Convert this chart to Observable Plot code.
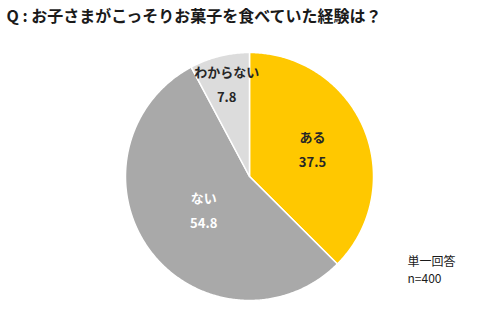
<!DOCTYPE html>
<html>
<head>
<meta charset="utf-8">
<script src="https://cdn.jsdelivr.net/npm/d3@7"></script>
<script src="https://cdn.jsdelivr.net/npm/@observablehq/plot@0.6"></script>
<style>
  html, body { margin: 0; padding: 0; background: #fff; }
  #chart svg { display: block; }
</style>
</head>
<body>
<div id="chart"></div>
<script>
// ---- data ----
const title = "Q : お子さまがこっそりお菓子を食べていた経験は？";
const categories = ["ある", "ない", "わからない"];
const values = [37.5, 54.8, 7.8];
const noteLines = ["単一回答", "n=400"];

// ---- styling (not data) ----
const colors = { "ある": "#FFC800", "ない": "#A9A9A9", "わからない": "#DCDCDC" };
const labelColors = { "ある": "#262626", "ない": "#ffffff", "わからない": "#262626" };
const labelRadius = { "ある": 0.55, "ない": 0.46, "わからない": 0.76 };

const data = categories.map((c, i) => ({ category: c, value: values[i] }));
const arcs = d3.pie().sort(null).value(d => d.value)(data);

// build slice outlines in unit-circle coordinates (y up)
const slicePts = [];
for (const a of arcs) {
  const c = a.data.category;
  slicePts.push({ category: c, x: 0, y: 0 });
  const n = Math.max(2, Math.ceil((a.endAngle - a.startAngle) / 0.01));
  for (let k = 0; k <= n; k++) {
    const t = a.startAngle + (a.endAngle - a.startAngle) * k / n;
    slicePts.push({ category: c, x: Math.sin(t), y: Math.cos(t) });
  }
  slicePts.push({ category: c, x: 0, y: 0 });
}

const labels = arcs.map(a => {
  const c = a.data.category;
  const m = (a.startAngle + a.endAngle) / 2;
  const r = labelRadius[c];
  return { category: c, value: a.data.value, x: r * Math.sin(m), y: r * Math.cos(m) };
});

const font = "'Noto Sans CJK JP', 'Noto Sans', sans-serif";

const chart = Plot.plot({
  width: 487,
  height: 310,
  margin: 0,
  style: { fontFamily: font, background: "#fff" },
  x: { domain: [-1, 1], range: [125, 373], axis: null },
  y: { domain: [-1, 1], range: [300, 52], axis: null },
  marks: [
    Plot.line(slicePts, {
      x: "x", y: "y", z: "category",
      fill: d => colors[d.category],
      stroke: "#ffffff", strokeWidth: 1.5, strokeLinejoin: "round",
      curve: "linear"
    }),
    Plot.text(labels, {
      x: "x", y: "y", text: "category", dy: -12,
      fill: d => labelColors[d.category],
      fontSize: 13, fontWeight: "bold"
    }),
    Plot.text(labels, {
      x: "x", y: "y", text: d => d.value.toFixed(1), dy: 13,
      fill: d => labelColors[d.category],
      fontSize: 13, fontWeight: "bold"
    }),
    Plot.text([title], {
      frameAnchor: "top-left", dx: 6, dy: 10, text: d => d,
      textAnchor: "start", lineAnchor: "top",
      fontSize: 16, fontWeight: "bold", fill: "#1a1a1a"
    }),
    Plot.text([noteLines.join("\n")], {
      frameAnchor: "top-left", dx: 407, dy: 254, text: d => d,
      textAnchor: "start", lineAnchor: "top", lineHeight: 1.4,
      fontSize: 12, fill: "#1a1a1a"
    }),
  ]
});

document.getElementById("chart").appendChild(chart);
</script>
</body>
</html>
